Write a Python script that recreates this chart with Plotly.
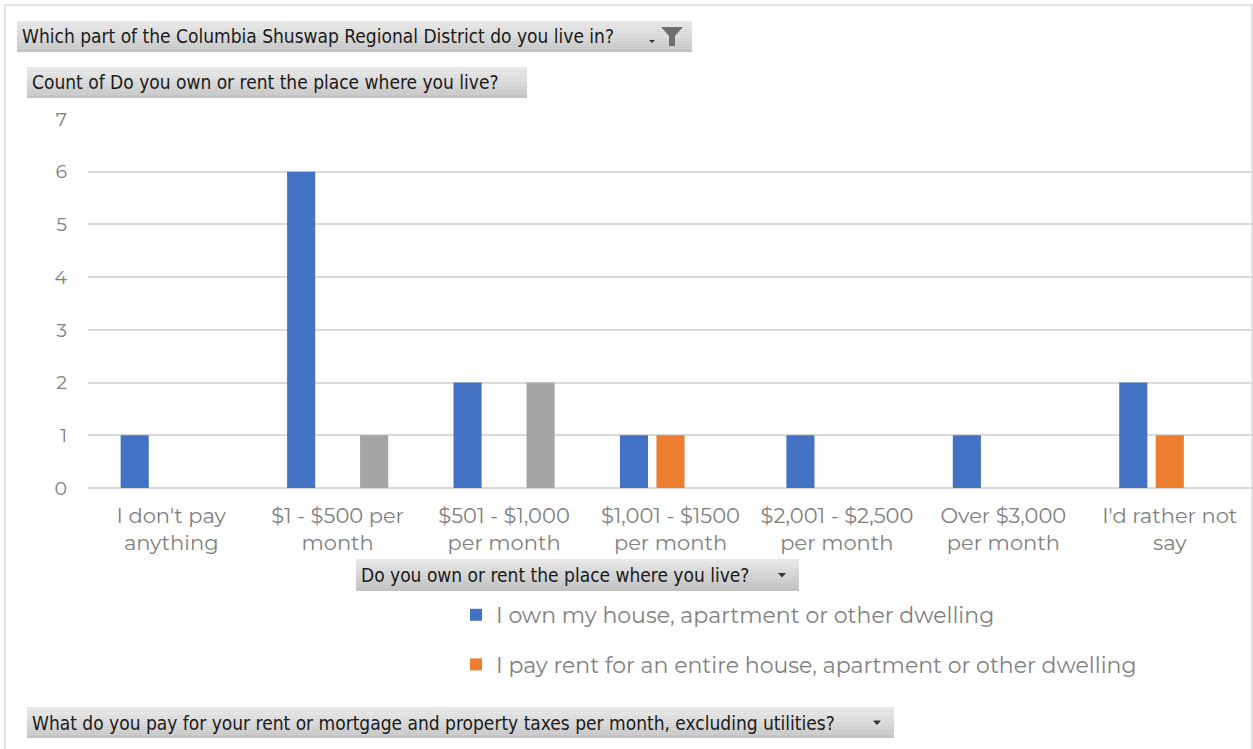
import plotly.graph_objects as go

# Payment brackets (x categories)
categories = [
    "I don't pay<br>anything",
    "$1 - $500 per<br>month",
    "$501 - $1,000<br>per month",
    "$1,001 - $1500<br>per month",
    "$2,001 - $2,500<br>per month",
    "Over $3,000<br>per month",
    "I'd rather not<br>say",
]

series_names = [
    "I own my house, apartment or other dwelling",
    "I pay rent for an entire house, apartment or other dwelling",
    "Other",
]
own_counts = [1, 6, 2, 1, 1, 1, 2]
rent_counts = [None, None, None, 1, None, None, 1]
other_counts = [None, 1, 2, None, None, None, None]

y_ticks = [0, 1, 2, 3, 4, 5, 6, 7]

colors = ["#4472C4", "#ED7D31", "#A5A5A5"]

W, H = 1253, 749
L, R, T, B = 88, 0, 119, 261
PW = W - L - R
PH = H - T - B


def px(x):
    return (x - L) / PW


def py(y):
    return (H - B - y) / PH


fig = go.Figure()
for name, vals, col, show in zip(series_names,
                                 [own_counts, rent_counts, other_counts],
                                 colors, [True, True, False]):
    fig.add_trace(go.Bar(
        x=categories, y=vals, name=name, marker_color=col,
        marker_line_width=0, showlegend=show, legendgroup=name,
    ))

shapes = []
annotations = []

# outer chart border
shapes.append(dict(type="rect", xref="paper", yref="paper",
                   x0=px(5), x1=px(1252), y0=py(760), y1=py(5),
                   line=dict(color="#d9d9d9", width=1.5), fillcolor="rgba(0,0,0,0)",
                   layer="below"))


def button(x0, y0, x1, y1, text, icon=None):
    n = 16
    top = (232, 232, 232)
    bot = (194, 194, 194)
    for i in range(n):
        t = i / (n - 1)
        c = tuple(int(top[k] + (bot[k] - top[k]) * t) for k in range(3))
        ya = y0 + (y1 - y0) * i / n
        yb = y0 + (y1 - y0) * (i + 1) / n
        shapes.append(dict(type="rect", xref="paper", yref="paper",
                           x0=px(x0), x1=px(x1), y0=py(yb), y1=py(ya),
                           fillcolor="rgb(%d,%d,%d)" % c, line_width=0,
                           layer="above"))
    annotations.append(dict(
        xref="paper", yref="paper", x=px(x0 + 3), y=py((y0 + y1) / 2),
        xanchor="left", yanchor="middle", showarrow=False, text=text,
        font=dict(family="Liberation Sans Narrow, Arial Narrow, DejaVu Sans Condensed",
                  size=19, color="#1a1a1a"),
    ))
    if icon == "arrow":
        cx, cy = x1 - 17, (y0 + y1) / 2
        shapes.append(dict(type="path", xref="paper", yref="paper",
                           path="M %f %f L %f %f L %f %f Z" % (
                               px(cx - 4), py(cy - 2), px(cx + 4), py(cy - 2), px(cx), py(cy + 2.5)),
                           fillcolor="#333333", line_width=0, layer="above"))
    elif icon == "filter":
        cx, cy = x1 - 40, (y0 + y1) / 2 + 5
        shapes.append(dict(type="path", xref="paper", yref="paper",
                           path="M %f %f L %f %f L %f %f Z" % (
                               px(cx - 3), py(cy - 1.5), px(cx + 3), py(cy - 1.5), px(cx), py(cy + 1.5)),
                           fillcolor="#333333", line_width=0, layer="above"))
        fx = x1 - 20
        fy0 = y0 + 6
        path = "M %f %f L %f %f L %f %f L %f %f L %f %f L %f %f Z" % (
            px(fx - 11), py(fy0), px(fx + 11), py(fy0),
            px(fx + 3), py(fy0 + 9), px(fx + 3), py(fy0 + 19),
            px(fx - 3), py(fy0 + 19), px(fx - 3), py(fy0 + 9))
        shapes.append(dict(type="path", xref="paper", yref="paper", path=path,
                           fillcolor="#6f6f6f", line_width=0, layer="above"))


button(17, 21, 692, 52,
       "Which part of the Columbia Shuswap Regional District do you live in?", "filter")
button(27, 67, 527, 98, "Count of Do you own or rent the place where you live?")
button(356, 559, 799, 591, "Do you own or rent the place where you live?", "arrow")
button(27, 707, 894, 738,
       "What do you pay for your rent or mortgage and property taxes per month, excluding utilities?",
       "arrow")

label_font = "Montserrat, Lato, Open Sans, sans-serif"

fig.update_layout(
    width=W, height=H,
    margin=dict(l=L, r=R, t=T, b=B, autoexpand=False),
    paper_bgcolor="white", plot_bgcolor="white",
    barmode="group", bargap=0.342, bargroupgap=0.23,
    shapes=shapes, annotations=annotations,
    font=dict(family=label_font, color="#7f7f7f"),
    showlegend=True,
    legend=dict(
        xref="container", yref="container",
        x=456 / W, y=1 - 594 / H, xanchor="left", yanchor="top",
        bgcolor="rgba(0,0,0,0)", font=dict(size=22, color="#808080", family=label_font),
        tracegroupgap=18, traceorder="grouped", itemclick=False,
    ),
    xaxis=dict(
        tickfont=dict(size=21, color="#808080"), showgrid=False, showline=False,
        ticks="", ticklabelstandoff=13, fixedrange=True,
    ),
    yaxis=dict(
        range=[0, 7], tickvals=y_ticks, tickfont=dict(size=19, color="#808080"),
        gridcolor="#d9d9d9", gridwidth=1.5, zeroline=True, zerolinecolor="#d9d9d9",
        zerolinewidth=1.5, showline=False, ticks="", ticklabelstandoff=20,
        fixedrange=True,
    ),
)

fig.write_html("out.html")
